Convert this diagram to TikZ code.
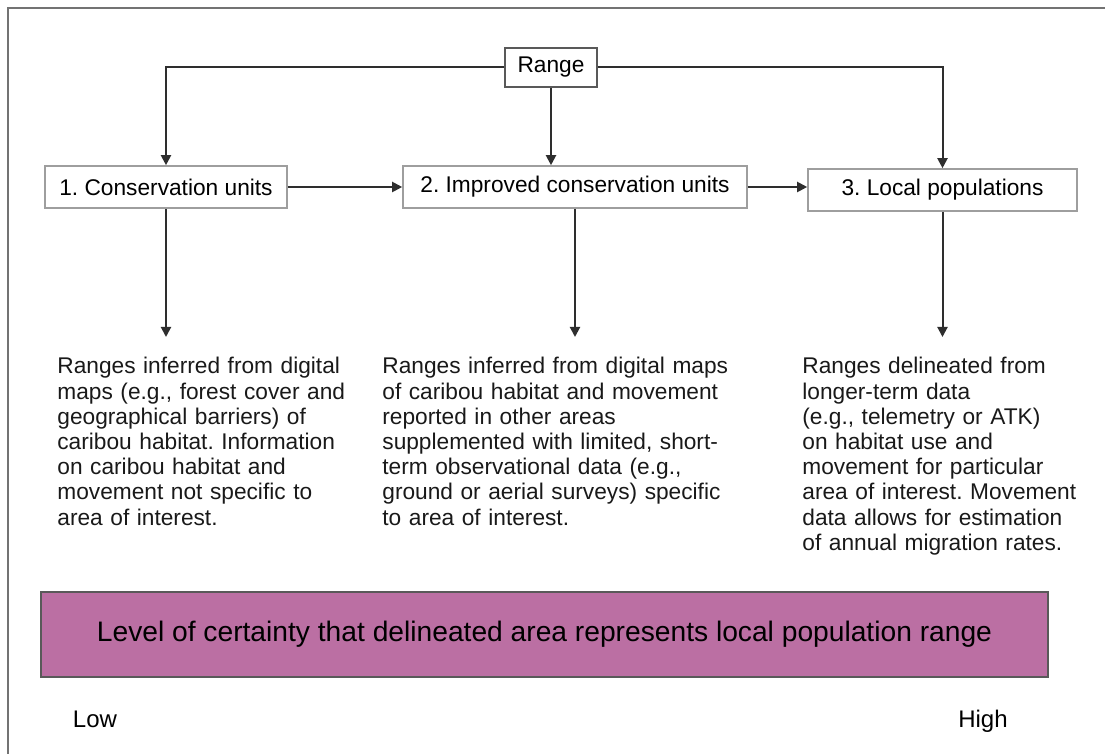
\documentclass[tikz,border=0pt]{standalone}
\usepackage{fontspec}
\setmainfont{Liberation Sans}
\usetikzlibrary{arrows.meta}
\frenchspacing
\definecolor{framecol}{gray}{0.45}
\definecolor{linecol}{gray}{0.18}
\definecolor{boxcol}{gray}{0.62}
\definecolor{rangecol}{gray}{0.35}
\definecolor{barfill}{RGB}{187,111,163}
\tikzset{
  conn/.style={draw=linecol,line width=1pt,-{Triangle[length=5pt,width=5pt]}},
  unitbox/.style={draw=boxcol,line width=0.8pt,fill=white,inner sep=0pt,minimum height=21pt,font=\fontsize{11.35}{13}\selectfont},
  rangebox/.style={draw=rangecol,line width=0.8pt,fill=white,inner sep=0pt,minimum width=46pt,minimum height=19.5pt,font=\fontsize{11.35}{13}\selectfont},
  desc/.style={anchor=north west,align=left,text width=180pt,inner xsep=0pt,inner ysep=10pt,text=black!90,font=\fontsize{11.35}{12.6}\selectfont},
  endlab/.style={anchor=base,font=\fontsize{12}{14}\selectfont,inner sep=0pt},
}
\begin{document}
\begin{tikzpicture}[x=0.5pt,y=-0.5pt]
  \useasboundingbox (0,0) rectangle (1105,754);
  \draw[framecol,line width=1pt] (8,770) -- (8,8) -- (1120,8);
  \node[rangebox] (rng) at (551,67.5) {Range};
  \node[unitbox,minimum width=121pt] (cu) at (166,187) {1. Conservation units};
  \node[unitbox,minimum width=172pt] (icu) at (575,187) {2. Improved conservation units};
  \node[unitbox,minimum width=134.5pt] (lp) at (942.5,190) {3. Local populations};
  \node[desc] (t1) at (57,337) {Ranges inferred from digital\\maps (e.g., forest cover and\\geographical barriers) of\\caribou habitat. Information\\on caribou habitat and\\movement not specific to\\area of interest.};
  \node[desc] (t2) at (382,337) {Ranges inferred from digital maps\\of caribou habitat and movement\\reported in other areas\\supplemented with limited, short-\\term observational data (e.g.,\\ground or aerial surveys) specific\\to area of interest.};
  \node[desc] (t3) at (802,337) {Ranges delineated from\\longer-term data\\(e.g., telemetry or ATK)\\on habitat use and\\movement for particular\\area of interest. Movement\\data allows for estimation\\of annual migration rates.};
  \node[draw=rangecol,line width=0.8pt,fill=barfill,minimum width=503.5pt,minimum height=42.5pt,inner sep=0pt,font=\fontsize{14.1}{16}\selectfont] (bar) at (544.5,634.5) {Level of certainty that delineated area represents local population range};
  \node[endlab] (low) at (95,727) {Low};
  \node[endlab] (high) at (983,727) {High};
  \draw[conn] (rng.west) -| (cu.north);
  \draw[conn] (rng.east) -| (lp.north);
  \draw[conn] (rng.south) -- (rng.south |- icu.north);
  \draw[conn] (cu.east) -- (icu.west);
  \draw[conn] (icu.east) -- (icu.east -| lp.west);
  \draw[conn] (cu.south) -- (cu.south |- t1.north);
  \draw[conn] (icu.south) -- (icu.south |- t2.north);
  \draw[conn] (lp.south) -- (lp.south |- t3.north);
\end{tikzpicture}
\end{document}
